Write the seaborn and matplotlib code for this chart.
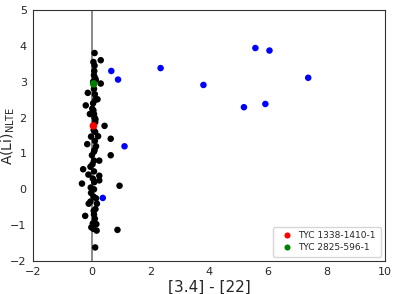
import matplotlib
matplotlib.use("Agg")
import matplotlib.pyplot as plt
import seaborn as sns
import pandas as pd

# black: main sample
black_x = [0.10, 0.31, 0.06, 0.10, 0.08, 0.12, 0.05, 0.31, -0.13, 0.08,
           0.11, 0.20, 0.13, -0.20, 0.06, 0.08, -0.06, 0.10, 0.12, 0.44,
           0.07, 0.22, -0.02, 0.65, 0.11, -0.15, 0.15, 0.08, 0.65, 0.01,
           0.08, 0.26, -0.04, -0.29, 0.08, -0.11, 0.26, 0.04, 0.26, -0.33,
           -0.03, 0.95, 0.08, -0.02, 0.06, -0.04, -0.10, 0.18, 0.13, 0.08,
           -0.22, 0.11, 0.04, 0.16, -0.01, 0.06, 0.17, 0.88, 0.12, 0.09,
           0.14, 0.05, 0.12, 0.10, 0.03, 0.09, 0.15, 0.07, 0.13, 0.02]
black_y = [3.80, 3.60, 3.55, 3.45, 3.18, 3.10, 3.00, 2.95, 2.69, 2.80,
           2.65, 2.51, 2.50, 2.34, 2.20, 2.10, 2.10, 2.00, 1.87, 1.77,
           1.65, 1.48, 1.47, 1.41, 1.35, 1.26, 1.20, 1.05, 0.95, 0.95,
           0.80, 0.80, 0.63, 0.56, 0.50, 0.41, 0.38, 0.30, 0.25, 0.16,
           0.05, 0.10, 0.00, -0.10, -0.20, -0.34, -0.40, -0.40, -0.55, -0.70,
           -0.74, -0.82, -0.95, -0.97, -1.06, -1.10, -1.15, -1.13, -1.62, 3.30,
           3.05, 2.40, 1.60, 1.10, 0.70, 0.20, -0.25, -0.60, 1.95, 2.25]

# blue: stars with IR excess
blue_x = [5.58, 6.06, 0.67, 0.90, 2.35, 3.81, 5.19, 5.92, 7.38, 1.12, 0.38]
blue_y = [3.94, 3.87, 3.30, 3.06, 3.38, 2.91, 2.29, 2.38, 3.11, 1.20, -0.24]

star_names = ["TYC 1338-1410-1", "TYC 2825-596-1"]
star_x = [0.06, 0.07]
star_y = [1.77, 2.94]
star_colors = ["red", "green"]

sns.set_style("white", {"axes.edgecolor": "0.2"})

fig = plt.figure(figsize=(3.97, 2.94), dpi=100)
ax = fig.add_axes([0.083, 0.112, 0.887, 0.854])

ax.axvline(0, color="grey", linewidth=1.3, zorder=1)

sns.scatterplot(x=black_x, y=black_y, color="black", s=22,
                edgecolor="none", ax=ax, zorder=2)
sns.scatterplot(x=blue_x, y=blue_y, color="blue", s=22,
                edgecolor="none", ax=ax, zorder=2)

stars = pd.DataFrame({"x": star_x, "y": star_y, "name": star_names})
sns.scatterplot(data=stars, x="x", y="y", hue="name",
                palette=dict(zip(star_names, star_colors)), s=30,
                edgecolor="none", ax=ax, zorder=3)

ax.set_xlim(-2, 10)
ax.set_ylim(-2, 5)
ax.set_xticks([-2, 0, 2, 4, 6, 8, 10])
ax.set_yticks([-2, -1, 0, 1, 2, 3, 4, 5])
ax.tick_params(labelsize=8, pad=1)
ax.set_xlabel("[3.4] - [22]", fontsize=11, labelpad=2)
ax.set_ylabel(r"A(Li)$_{\rm NLTE}$", fontsize=10)
ax.yaxis.set_label_coords(-0.046, 0.5)

ax.legend(loc="lower right", fontsize=6.5, markerscale=0.8,
          handletextpad=0.3, borderpad=0.5, labelspacing=0.3)

fig.savefig("out.png", dpi=100)
